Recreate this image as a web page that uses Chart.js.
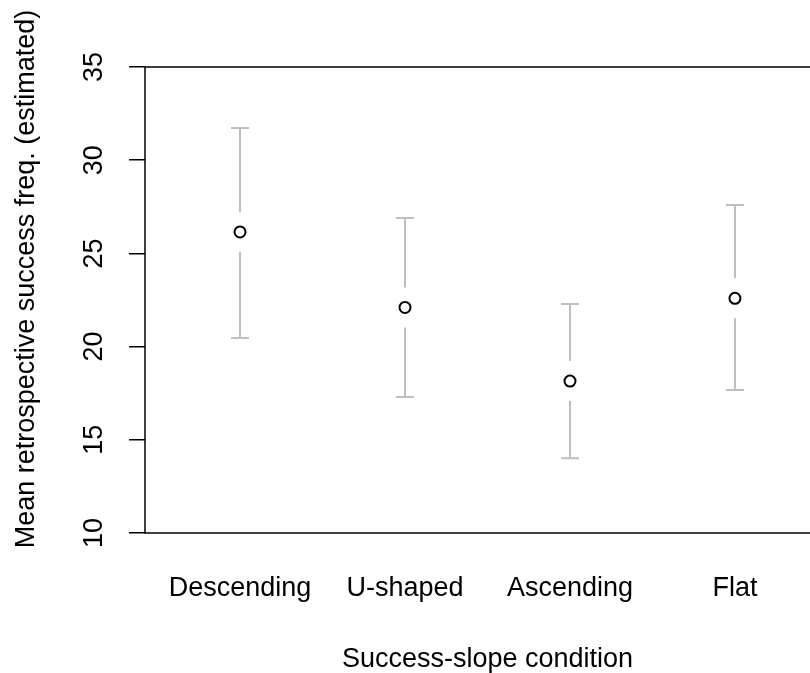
<!DOCTYPE html>
<html>
<head>
<meta charset="utf-8">
<script src="https://cdn.jsdelivr.net/npm/chart.js@4/dist/chart.umd.min.js"></script>
<style>
  html, body { margin: 0; padding: 0; background: #fff; overflow: hidden; }
  #wrap { width: 850px; height: 673px; }
</style>
</head>
<body>
<div id="wrap"><canvas id="chart" width="850" height="673"></canvas></div>
<script>
// values
const categories = ['Descending', 'U-shaped', 'Ascending', 'Flat'];
const means = [26.15, 22.1, 18.15, 22.59];
const upper = [31.73, 26.9, 22.29, 27.6];
const lower = [20.46, 17.3, 14.01, 17.67];
const yTicks = [10, 15, 20, 25, 30, 35];

const xTitle = 'Success-slope condition';
const yTitle = 'Mean retrospective success freq. (estimated)';

const FONT = "'Liberation Sans', Arial, sans-serif";

// grey whiskers with a gap round each point
const errorBars = {
  id: 'errorBars',
  beforeDatasetsDraw(chart) {
    const ctx = chart.ctx;
    const xs = chart.scales.x;
    const ys = chart.scales.y;
    const gap = 20;
    const cap = 9;
    ctx.save();
    ctx.strokeStyle = '#bebebe';
    ctx.lineWidth = 2;
    means.forEach((m, i) => {
      const x = xs.getPixelForValue(i + 1);
      const yM = ys.getPixelForValue(m);
      const yU = ys.getPixelForValue(upper[i]);
      const yL = ys.getPixelForValue(lower[i]);
      ctx.beginPath();
      ctx.moveTo(x, yU);
      ctx.lineTo(x, yM - gap);
      ctx.moveTo(x, yM + gap);
      ctx.lineTo(x, yL);
      ctx.moveTo(x - cap, yU);
      ctx.lineTo(x + cap, yU);
      ctx.moveTo(x - cap, yL);
      ctx.lineTo(x + cap, yL);
      ctx.stroke();
    });
    ctx.restore();
  }
};

// plot box and rotated y title
const frame = {
  id: 'frame',
  afterDraw(chart) {
    const ctx = chart.ctx;
    const a = chart.chartArea;
    ctx.save();
    ctx.strokeStyle = '#000';
    ctx.lineWidth = 1.5;
    ctx.strokeRect(a.left, a.top, a.right - a.left, a.bottom - a.top);
    ctx.fillStyle = '#000';
    ctx.font = '27px ' + FONT;
    ctx.textAlign = 'center';
    ctx.textBaseline = 'middle';
    ctx.translate(27, 279);
    ctx.rotate(-Math.PI / 2);
    ctx.fillText(yTitle, 0, 0);
    ctx.restore();
  }
};

new Chart(document.getElementById('chart'), {
  type: 'scatter',
  data: {
    datasets: [{
      data: means.map((m, i) => ({ x: i + 1, y: m })),
      pointRadius: 5.5,
      pointHoverRadius: 5.5,
      borderWidth: 2,
      borderColor: '#000',
      backgroundColor: '#fff',
      showLine: false
    }]
  },
  options: {
    responsive: false,
    animation: false,
    devicePixelRatio: 1,
    layout: { padding: { top: 67, right: 20, bottom: 0, left: 0 } },
    plugins: {
      legend: { display: false },
      tooltip: { enabled: false }
    },
    scales: {
      x: {
        type: 'linear',
        min: 0.424,
        max: 4.576,
        afterBuildTicks(scale) {
          scale.ticks = categories.map((_, i) => ({ value: i + 1 }));
        },
        afterFit(scale) { scale.height = 140; },
        grid: { display: false, drawTicks: false },
        border: { display: false },
        ticks: {
          padding: 39,
          maxRotation: 0,
          autoSkip: false,
          color: '#000',
          font: { family: FONT, size: 27 },
          callback: (v) => categories[v - 1]
        },
        title: {
          display: true,
          text: xTitle,
          color: '#000',
          font: { family: FONT, size: 27, lineHeight: 1 },
          padding: { top: 0, bottom: 0 }
        }
      },
      y: {
        min: 10,
        max: 35,
        afterBuildTicks(scale) {
          scale.ticks = yTicks.map((v) => ({ value: v }));
        },
        afterFit(scale) { scale.width = 145; },
        grid: {
          drawOnChartArea: false,
          drawTicks: true,
          tickLength: 16,
          color: '#000',
          lineWidth: 1.5
        },
        border: { display: false },
        ticks: {
          minRotation: 90,
          maxRotation: 90,
          crossAlign: 'center',
          padding: 19,
          color: '#000',
          font: { family: FONT, size: 27 }
        }
      }
    }
  },
  plugins: [errorBars, frame]
});
</script>
</body>
</html>
